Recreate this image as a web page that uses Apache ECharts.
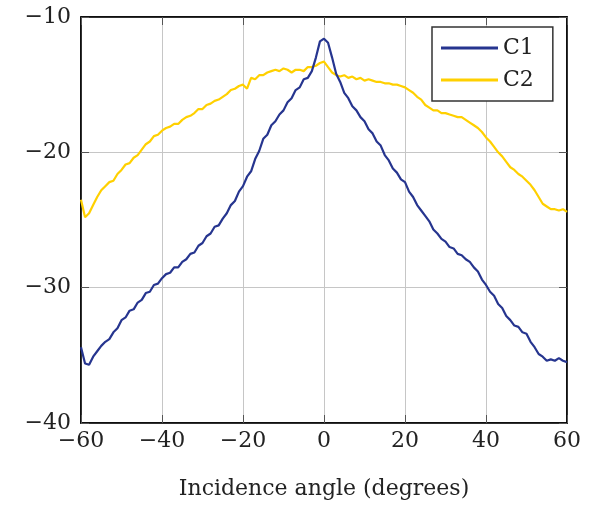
<!DOCTYPE html>
<html>
<head>
<meta charset="utf-8">
<script src="https://cdn.jsdelivr.net/npm/echarts@6/dist/echarts.min.js"></script>
<style>
html,body{margin:0;padding:0;background:#fff;}
#chart{width:593px;height:507px;}
</style>
</head>
<body>
<div id="chart"></div>
<script>
var angles = [
-60,-59,-58,-57,-56,-55,-54,-53,-52,-51,
-50,-49,-48,-47,-46,-45,-44,-43,-42,-41,
-40,-39,-38,-37,-36,-35,-34,-33,-32,-31,
-30,-29,-28,-27,-26,-25,-24,-23,-22,-21,
-20,-19,-18,-17,-16,-15,-14,-13,-12,-11,
-10,-9,-8,-7,-6,-5,-4,-3,-2,-1,
0,
1,2,3,4,5,6,7,8,9,10,
11,12,13,14,15,16,17,18,19,20,
21,22,23,24,25,26,27,28,29,30,
31,32,33,34,35,36,37,38,39,40,
41,42,43,44,45,46,47,48,49,50,
51,52,53,54,55,56,57,58,59,60
];
var c1 = [
-34.4,-35.6,-35.7,-35.1,-34.7,-34.3,-34.0,-33.8,-33.3,-33.0,
-32.4,-32.2,-31.7,-31.6,-31.1,-30.9,-30.4,-30.3,-29.8,-29.7,
-29.3,-29.0,-28.9,-28.5,-28.5,-28.1,-27.9,-27.5,-27.4,-26.9,
-26.7,-26.2,-26.0,-25.5,-25.4,-24.9,-24.5,-23.9,-23.6,-22.9,
-22.5,-21.8,-21.4,-20.5,-19.9,-19.0,-18.7,-18.0,-17.7,-17.2,
-16.9,-16.3,-16.0,-15.4,-15.2,-14.6,-14.5,-14.0,-13.0,-11.8,
-11.6,
-11.9,-13.0,-14.2,-14.8,-15.6,-16.0,-16.6,-16.9,-17.4,-17.7,
-18.3,-18.6,-19.2,-19.5,-20.2,-20.6,-21.2,-21.5,-22.0,-22.2,
-22.9,-23.3,-23.9,-24.3,-24.7,-25.1,-25.7,-26.0,-26.4,-26.6,
-27.0,-27.1,-27.5,-27.6,-27.9,-28.1,-28.5,-28.8,-29.4,-29.8,
-30.3,-30.6,-31.2,-31.5,-32.1,-32.4,-32.8,-32.9,-33.3,-33.4,
-34.0,-34.4,-34.9,-35.1,-35.4,-35.3,-35.4,-35.2,-35.4,-35.5
];
var c2 = [
-23.5,-24.8,-24.5,-23.9,-23.3,-22.8,-22.5,-22.2,-22.1,-21.6,
-21.3,-20.9,-20.8,-20.4,-20.2,-19.8,-19.4,-19.2,-18.8,-18.7,
-18.4,-18.2,-18.1,-17.9,-17.9,-17.6,-17.4,-17.3,-17.1,-16.8,
-16.8,-16.5,-16.4,-16.2,-16.1,-15.9,-15.7,-15.4,-15.3,-15.1,
-15.0,-15.3,-14.5,-14.6,-14.3,-14.3,-14.1,-14.0,-13.9,-14.0,
-13.8,-13.9,-14.1,-13.9,-13.9,-14.0,-13.7,-13.7,-13.6,-13.4,
-13.3,
-13.7,-14.1,-14.3,-14.4,-14.3,-14.5,-14.4,-14.6,-14.5,-14.7,
-14.6,-14.7,-14.8,-14.8,-14.9,-14.9,-15.0,-15.0,-15.1,-15.2,
-15.4,-15.6,-15.9,-16.1,-16.5,-16.7,-16.9,-16.9,-17.1,-17.1,
-17.2,-17.3,-17.4,-17.4,-17.6,-17.8,-18.0,-18.2,-18.5,-18.9,
-19.2,-19.6,-20.0,-20.3,-20.7,-21.1,-21.3,-21.6,-21.8,-22.1,
-22.4,-22.8,-23.3,-23.8,-24.0,-24.2,-24.2,-24.3,-24.2,-24.4
];
var seriesNames = ['C1', 'C2'];
var xTitle = 'Incidence angle (degrees)';

var FONT = '"DejaVu Serif", "Liberation Serif", serif';
function fmt(v){ return String(v).replace('-', '\u2212'); }
function pairs(ys){ return angles.map(function(a,i){ return [a, ys[i]]; }); }

var tickStyle = {show:true, inside:true, length:8, lineStyle:{color:'#555', width:1}};
var chart = echarts.init(document.getElementById('chart'), null, {renderer:'canvas'});
chart.setOption({
  animation:false,
  backgroundColor:'#fff',
  grid:{left:81, right:26, top:17, bottom:84, show:true, borderColor:'#000', borderWidth:1.5, backgroundColor:'transparent'},
  legend:{
    orient:'vertical', left:432, top:27,
    data:seriesNames,
    icon:'rect', itemWidth:57, itemHeight:3, itemGap:10, itemTextGap:9,
    padding:[10,19,10,9],
    borderColor:'#333', borderWidth:1.5, backgroundColor:'#fff',
    textStyle:{fontFamily:FONT, fontSize:22, color:'#222'}
  },
  xAxis:[{
    type:'value', min:-60, max:60, interval:20,
    axisLine:{show:true, onZero:false, lineStyle:{color:'#000', width:1.5}},
    axisTick:tickStyle,
    axisLabel:{formatter:fmt, fontFamily:FONT, fontSize:22, color:'#222', margin:7},
    splitLine:{show:true, lineStyle:{color:'#c6c6c6', width:1}},
    name:xTitle, nameLocation:'middle', nameGap:55,
    nameTextStyle:{fontFamily:FONT, fontSize:22, color:'#222'}
  },{
    type:'value', min:-60, max:60, interval:20, position:'top',
    axisLine:{show:true, onZero:false, lineStyle:{color:'#000', width:1.5}},
    axisTick:tickStyle, axisLabel:{show:false}, splitLine:{show:false}
  }],
  yAxis:[{
    type:'value', min:-40, max:-10, interval:10,
    axisLine:{show:true, onZero:false, lineStyle:{color:'#000', width:1.5}},
    axisTick:tickStyle,
    axisLabel:{formatter:fmt, fontFamily:FONT, fontSize:22, color:'#222', margin:10},
    splitLine:{show:true, lineStyle:{color:'#c6c6c6', width:1}}
  },{
    type:'value', min:-40, max:-10, interval:10, position:'right',
    axisLine:{show:true, onZero:false, lineStyle:{color:'#000', width:1.5}},
    axisTick:tickStyle, axisLabel:{show:false}, splitLine:{show:false}
  }],
  series:[
    {name:seriesNames[0], type:'line', data:pairs(c1), showSymbol:false, symbol:'none',
     lineStyle:{color:'#26358f', width:2.2}, itemStyle:{color:'#26358f'}, z:3},
    {name:seriesNames[1], type:'line', data:pairs(c2), showSymbol:false, symbol:'none',
     lineStyle:{color:'#ffd000', width:2.2}, itemStyle:{color:'#ffd000'}, z:2}
  ]
});
</script>
</body>
</html>
